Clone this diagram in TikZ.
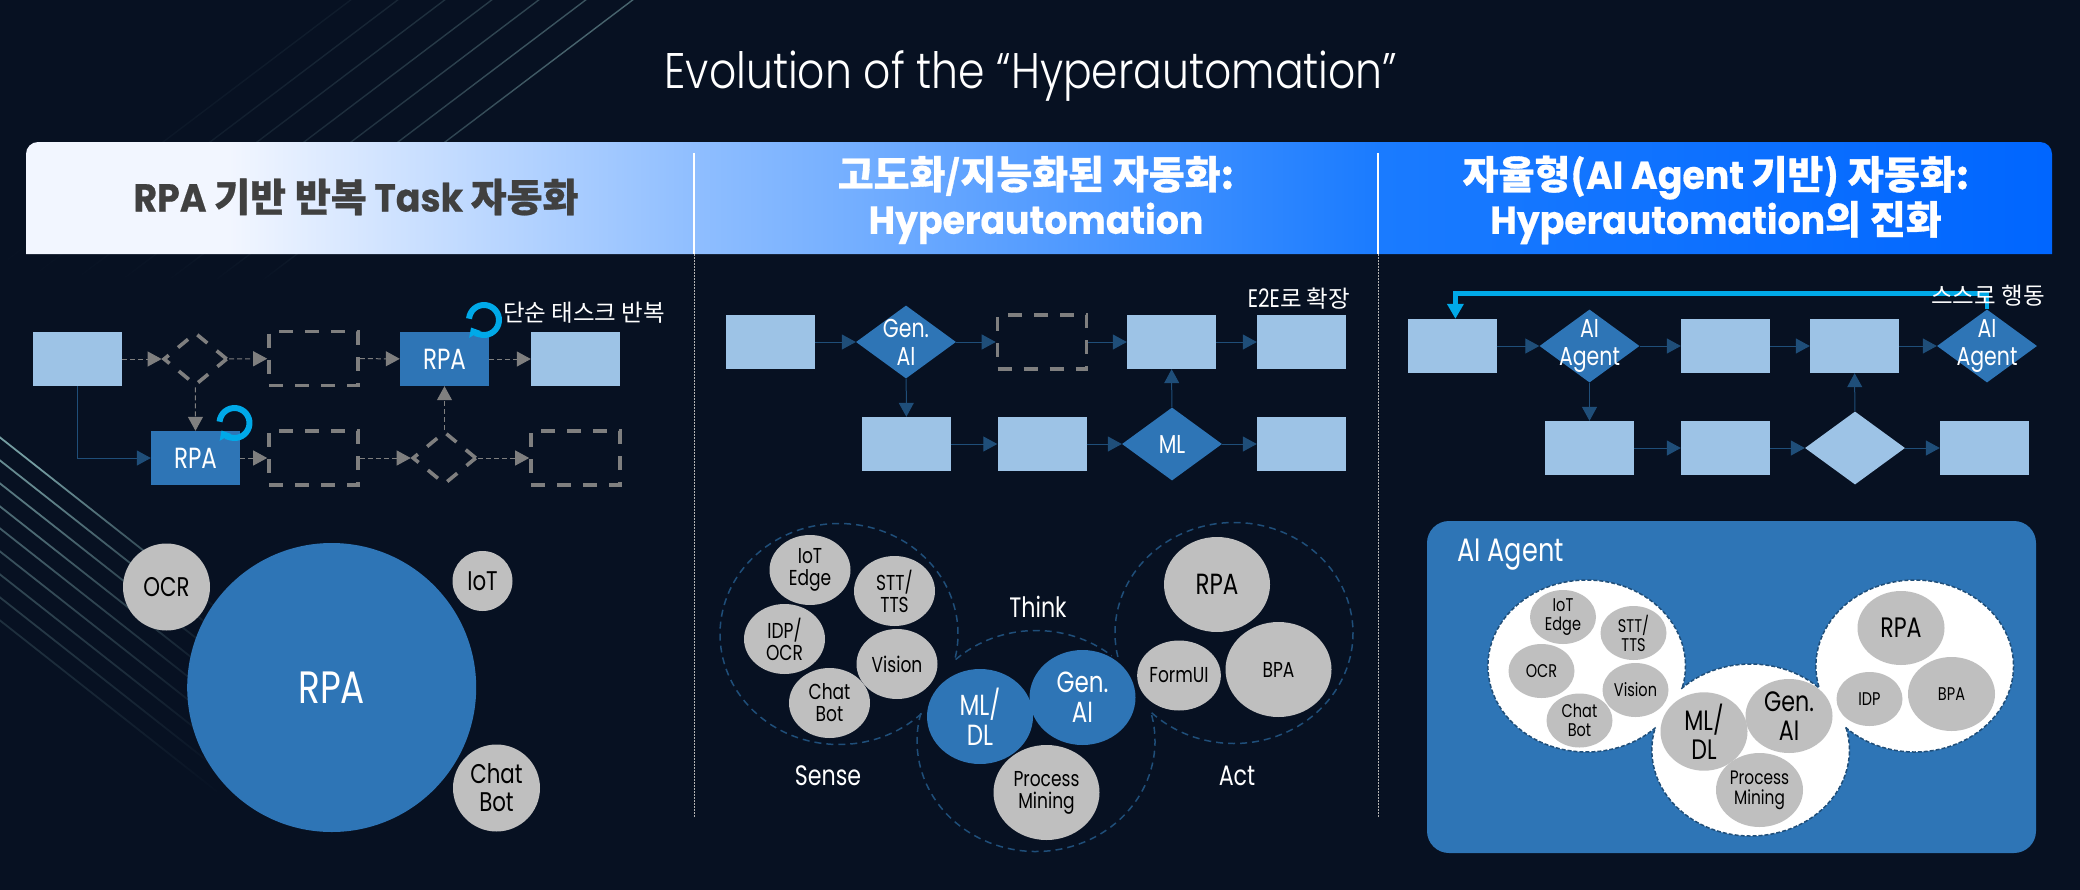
\documentclass[tikz,border=0pt]{standalone}
\usepackage{fontspec}
\usetikzlibrary{arrows.meta, shapes, positioning, calc, fadings}
\newfontfamily\bodyf[Scale=1.08,FakeStretch=.79]{Poppins}
\newfontfamily\headf[FakeStretch=.93,FakeBold=.4]{Poppins}
\newfontfamily\titlef[FakeStretch=.85]{Poppins Light}
\newfontfamily\krf{Noto Sans CJK KR}
\newfontfamily\krhf[FakeBold=.8]{Noto Sans CJK KR}
\newcommand{\fz}[2]{\fontsize{#1}{#2}\selectfont\bodyf}
\definecolor{pagebg}{HTML}{071122}
\definecolor{lightbox}{HTML}{9DC3E6}
\definecolor{darkbox}{HTML}{2E75B6}
\definecolor{flowblue}{HTML}{1F4E79}
\definecolor{dashgray}{HTML}{7F7F7F}
\definecolor{bubgray}{HTML}{BFBFBF}
\definecolor{loopblue}{HTML}{00A9E8}
\definecolor{hdrtext}{HTML}{404040}
\definecolor{hdra}{HTML}{F2F6FF}
\definecolor{hdrb}{HTML}{8FBEFF}
\definecolor{hdrc}{HTML}{1A7BFF}
\definecolor{hdrd}{HTML}{0066FF}
\pgfdeclarehorizontalshading{hdrband}{100bp}{color(0bp)=(hdra); color(30bp)=(hdra); color(41.5bp)=(hdrb); color(58.4bp)=(hdrc); color(75bp)=(hdrd); color(100bp)=(hdrd)}
\tikzset{
   lbox/.style={rectangle, fill=lightbox, inner sep=0, minimum width=89pt, minimum height=54pt},
   rpabox/.style={rectangle, fill=darkbox, inner sep=0, minimum width=89pt, minimum height=54pt, text=white, font=\fz{27}{30}},
   gapbox/.style={rectangle, draw=dashgray, line width=3.6pt, dash pattern=on 14pt off 12pt, inner sep=0, minimum width=89pt, minimum height=54pt},
   gapdia/.style={diamond, draw=dashgray, line width=3.6pt, dash pattern=on 13pt off 12pt, inner sep=0, minimum width=64pt, minimum height=53pt},
   ddia/.style={diamond, fill=darkbox, inner sep=0, minimum width=100pt, minimum height=73pt},
   dlab/.style={text=white, align=center, inner sep=0, font=\fz{24}{28}},
   ldia/.style={diamond, fill=lightbox, inner sep=0, minimum width=100pt, minimum height=73pt},
   flow/.style={-{Triangle[length=14pt,width=15pt]}, draw=flowblue, line width=1pt},
   gflow/.style={-{Triangle[length=14pt,width=15pt]}, draw=dashgray, line width=1pt, dash pattern=on 5pt off 3pt},
   gbub/.style={ellipse, fill=bubgray, inner sep=0, align=center, text=black},
   bbub/.style={ellipse, fill=darkbox, inner sep=0, align=center, text=white},
   msmall/.style={gbub, minimum width=81pt, minimum height=70pt, font=\fz{20}{22}},
   mbig/.style={minimum width=106pt, minimum height=95pt, font=\fz{27}{30}},
   rsmall/.style={gbub, minimum width=66pt, minimum height=54pt, font=\fz{17}{19}},
   rbig/.style={gbub, minimum width=87pt, minimum height=74pt, font=\fz{26}{29}},
   lobeline/.style={draw=flowblue, line width=1.5pt, dash pattern=on 7pt off 5pt},
   whiteline/.style={draw=flowblue, line width=1.5pt, dash pattern=on 4pt off 2pt},
   looparrow/.style={-{Triangle[length=8pt,width=13pt]}, draw=loopblue, line width=6pt},
   looptop/.style={-{Triangle[length=15pt,width=16pt]}, draw=loopblue, line width=4.7pt},
   skyline/.style={draw=white!60!teal, line width=1.4pt},
   plain/.style={text=white, inner sep=0, font=\fz{26}{29}},
   sepdot/.style={draw=white!70!black, line width=1pt, dash pattern=on 1.5pt off 1.5pt},
   notelab/.style={text=white, inner sep=0, font={\fontsize{23.5}{26}\selectfont\krf}}
}
\begin{document}
\begin{tikzpicture}[x=1pt,y=-1pt]
      \useasboundingbox (0,0) rectangle (2080,889);
      \fill[pagebg] (-3,-3) rectangle (2083,892);
      % background streaks
      \foreach \xtop/\op in {634/.45,587/.36,540/.28,493/.22,446/.16,399/.11,352/.06}
         \draw[skyline, opacity=\op, path fading=east, fading angle=217] (\xtop,0) -- ({\xtop-436},330);
      \foreach \ytop/\op in {437/.75,460/.65,483/.55,506/.48,528/.4,551/.34,574/.28,597/.22,620/.16}
         \draw[skyline, line width=1.8pt, opacity=\op, path fading=east, fading angle=-38] (0,\ytop) -- (260,{\ytop+205});
      % header band
      \shade[shading=hdrband] (26,254) -- (26,154) arc[start angle=180,end angle=270,radius=12]
         -- (2040,142) arc[start angle=270,end angle=360,radius=12] -- (2052,254) -- cycle;
      \node[text=white, inner sep=0, font={\fontsize{50}{56}\selectfont\titlef}] (title) at (1031,76) {Evolution of the “Hyperautomation”};
      \node[text=hdrtext, inner sep=0, font={\fontsize{39}{44}\selectfont\headf\bfseries}] (heada) at (356,197) {RPA {\krhf 기반 반복} Task {\krhf 자동화}};
      \node[text=white, inner sep=0, align=center, font={\fontsize{39}{45}\selectfont\headf\bfseries}] (headb) at (1036,200) {{\krhf 고도화/지능화된 자동화:}\\Hyperautomation};
      \node[text=white, inner sep=0, align=center, font={\fontsize{39}{45}\selectfont\headf\bfseries}] (headc) at (1716,200) {{\krhf 자율형(}AI Agent {\krhf 기반) 자동화:}\\Hyperautomation{\krhf 의 진화}};
      % separators
      \draw[white, line width=1.2pt] (694,153) -- (694,254);
      \draw[white, line width=1.2pt] (1378,153) -- (1378,254);
      \draw[sepdot] (694,254) -- (694,817);
      \draw[sepdot] (1378,254) -- (1378,817);

      % left flow
      \node[lbox] (la) at (77.5,359) {};
      \node[gapdia] (lb) at (195.4,359) {};
      \node[gapbox] (lc) at (313.5,358.5) {};
      \node[rpabox] (ld) at (444.5,359) {RPA};
      \node[lbox] (le) at (575.5,359) {};
      \node[rpabox] (lf) at (195.5,458) {RPA};
      \node[gapbox] (lg) at (313.5,458) {};
      \node[gapdia] (lh) at (444.5,458) {};
      \node[gapbox] (li) at (575.5,458) {};
      \draw[gflow] (la) -- (lb);
      \draw[gflow] (lb) -- (lc);
      \draw[gflow] (lc) -- (ld);
      \draw[gflow] (ld) -- (le);
      \draw[gflow] (lb) -- (lf);
      \draw[gflow] (lf) -- (lg);
      \draw[gflow] (lg) -- (lh);
      \draw[gflow] (lh) -- (li);
      \draw[gflow] (lh) -- (ld);
      \draw[flow] (la.south) |- (lf.west);
      \draw[looparrow] ([shift={(484,320)}]185:15) arc[start angle=185,end angle=510,radius=15];
      \draw[looparrow] ([shift={(234.5,423)}]185:15) arc[start angle=185,end angle=510,radius=15];
      \node[notelab] (lnote) at (584,313) {단순 태스크 반복};

      % left bubbles
      \node[bbub, minimum width=289pt, minimum height=289pt, font=\fz{42}{46}] (lrpa) at (331.7,687.5) {RPA};
      \node[gbub, minimum width=87pt, minimum height=87pt, font=\fz{25}{28}] (locr) at (166.5,587) {OCR};
      \node[gbub, minimum width=60pt, minimum height=60pt, font=\fz{25}{28}] (liot) at (482.5,581) {IoT};
      \node[gbub, minimum width=87pt, minimum height=87pt, font=\fz{25}{28}] (lchat) at (496.5,788) {Chat\\Bot};

      % middle flow
      \node[lbox] (ma) at (770.5,342) {};
      \node[ddia, label={[dlab]center:{Gen.\\AI}}] (mb) at (906,342) {};
      \node[gapbox] (mc) at (1042,342) {};
      \node[lbox] (md) at (1171.5,342) {};
      \node[lbox] (me) at (1301.5,342) {};
      \node[lbox] (mf) at (906.5,444) {};
      \node[lbox] (mg) at (1042,444) {};
      \node[ddia, label={[dlab]center:ML}] (mh) at (1172,444) {};
      \node[lbox] (mi) at (1301.5,444) {};
      \draw[flow] (ma) -- (mb);
      \draw[flow] (mb) -- (mc);
      \draw[flow] (mc) -- (md);
      \draw[flow] (md) -- (me);
      \draw[flow] (mb) -- (mf);
      \draw[flow] (mf) -- (mg);
      \draw[flow] (mg) -- (mh);
      \draw[flow] (mh) -- (mi);
      \draw[flow] (mh) -- (md);
      \node[notelab] (mnote) at (1299,299) {{\bodyf E2E}로 확장};

      % middle bubbles
      \foreach \cx/\cy/\sa/\ea in {839/634/46/373, 1036/741/227.5/309.5, 1036/741/346.4/554.7, 1234/633/167.5/495}
         \draw[lobeline] ([shift={(\cx,\cy)}]\sa:119 and 110.5) arc[start angle=\sa,end angle=\ea,x radius=119,y radius=110.5];
      \node[msmall] (siot) at (810,570) {IoT\\Edge};
      \node[msmall] (sstt) at (894.5,591) {STT/\\TTS};
      \node[msmall] (sidp) at (784.5,639) {IDP/\\OCR};
      \node[msmall] (svis) at (897,664) {Vision};
      \node[msmall] (scha) at (829.5,703) {Chat\\Bot};
      \node[bbub, mbig] (tml) at (980,716.5) {ML/\\DL};
      \node[bbub, mbig] (tgen) at (1082.5,697.5) {Gen.\\AI};
      \node[gbub, mbig, font=\fz{20}{22}] (tpro) at (1046.5,792.5) {Process\\Mining};
      \node[gbub, mbig] (arpa) at (1217,584.5) {RPA};
      \node[gbub, mbig, font=\fz{20}{22}] (abpa) at (1278.5,669.5) {BPA};
      \node[msmall] (afrm) at (1179,675.5) {FormUI};
      \node[plain] (lsense) at (828,776) {Sense};
      \node[plain] (lthink) at (1038,607) {Think};
      \node[plain] (lact) at (1237,776) {Act};

      % right flow
      \node[lbox] (ra) at (1452,346) {};
      \node[ddia, label={[dlab]center:{AI\\Agent}}] (rb) at (1589.5,346) {};
      \node[lbox] (rc) at (1725.5,346) {};
      \node[lbox] (rd) at (1854.5,346) {};
      \node[ddia, label={[dlab]center:{AI\\Agent}}] (re) at (1987,346) {};
      \node[lbox] (rf) at (1589.5,448) {};
      \node[lbox] (rg) at (1725.5,448) {};
      \node[ldia] (rh) at (1855,448) {};
      \node[lbox] (ri) at (1984.5,448) {};
      \draw[flow] (ra) -- (rb);
      \draw[flow] (rb) -- (rc);
      \draw[flow] (rc) -- (rd);
      \draw[flow] (rd) -- (re);
      \draw[flow] (rb) -- (rf);
      \draw[flow] (rf) -- (rg);
      \draw[flow] (rg) -- (rh);
      \draw[flow] (rh) -- (ri);
      \draw[flow] (rh) -- (rd);
      \coordinate (loopa) at (1987,293.7);
      \coordinate (loopb) at (1455.4,293.7);
      \draw[looptop] (re.north) -- (loopa) -- (loopb) -- ([xshift=3.4pt]ra.north);
      \node[notelab] (rnote) at (1988,296) {스스로 행동};

      % right panel
      \fill[darkbox, rounded corners=22] (1427,521) rectangle (2036,853);
      \node[plain, anchor=west, font=\fz{30}{33}] (rlab) at (1457,555) {AI Agent};
      \foreach \cx/\cy in {1586.7/666, 1750.6/750, 1914.7/666}
         \fill[white] (\cx,\cy) ellipse[x radius=98.8,y radius=86];
      \foreach \cx/\cy/\sa/\ea in {1586.7/666/45.7/374.6, 1750.6/750/225.4/313.6, 1750.6/750/345/555, 1914.7/666/166/495}
         \draw[whiteline] ([shift={(\cx,\cy)}]\sa:98.8 and 86) arc[start angle=\sa,end angle=\ea,x radius=98.8,y radius=86];
      \node[rsmall] (piot) at (1563,617) {IoT\\Edge};
      \node[rsmall] (pstt) at (1633.5,633) {STT/\\TTS};
      \node[rsmall] (pocr) at (1541.5,671) {OCR};
      \node[rsmall] (pvis) at (1635.5,690) {Vision};
      \node[rsmall] (pcha) at (1579.5,720.5) {Chat\\Bot};
      \node[rbig] (pml) at (1704,731.5) {ML/\\DL};
      \node[rbig] (pgen) at (1789,716) {Gen.\\AI};
      \node[rbig, font=\fz{18}{20}] (ppro) at (1759.5,790) {Process\\Mining};
      \node[rbig] (prpa) at (1901,628) {RPA};
      \node[rbig, font=\fz{17}{19}] (pbpa) at (1951.5,694) {BPA};
      \node[rsmall] (pidp) at (1869.5,699) {IDP};
\end{tikzpicture}
\end{document}
